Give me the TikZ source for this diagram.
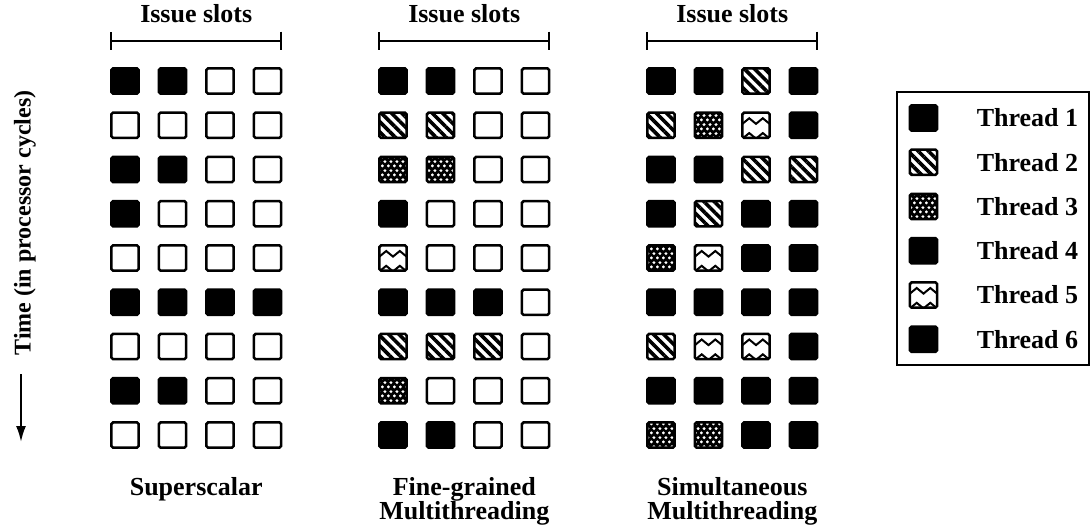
\documentclass[tikz,border=0pt]{standalone}
\usepackage{fontspec}
\setmainfont{Liberation Serif}
\usetikzlibrary{arrows.meta,positioning,calc,patterns,patterns.meta}

% staggered white dots for thread 3
\pgfdeclarepatternformonly{hexdots}{\pgfpointorigin}{\pgfpoint{2.8pt}{4.6pt}}{\pgfpoint{2.8pt}{4.6pt}}{%
  \pgfpathcircle{\pgfpoint{0.7pt}{1.15pt}}{0.85pt}%
  \pgfpathcircle{\pgfpoint{2.1pt}{3.45pt}}{0.85pt}%
  \pgfusepath{fill}%
}

\tikzset{
  slot/.style={draw, line width=1.3pt, minimum width=13.6pt, minimum height=12.6pt, inner sep=0pt, rounded corners=0.8pt},
  slot0/.style={slot, fill=white},
  slot1/.style={slot, fill=black},
  slot2/.style={slot, preaction={fill=white}, pattern={Lines[angle=-45,distance=3.6pt,line width=1.8pt]}, pattern color=black},
  slot3/.style={slot, preaction={fill=black}, pattern=hexdots, pattern color=white},
  slot4/.style={slot1},
  slot5/.style={slot, fill=white, path picture={
      \draw[line width=1pt, sharp corners] ([yshift=-5.6pt]path picture bounding box.north west)
        -- ++(3.4pt,2.8pt) -- ++(3.4pt,-2.8pt) -- ++(3.4pt,2.8pt) -- ++(3.4pt,-2.8pt);
      \draw[line width=1pt, sharp corners] ([yshift=-13pt]path picture bounding box.north west)
        -- ++(3.4pt,2.8pt) -- ++(3.4pt,-2.8pt) -- ++(3.4pt,2.8pt) -- ++(3.4pt,-2.8pt);
  }},
  slot6/.style={slot1},
  span/.style={line width=1pt, arrows={Bar[width=9pt]-Bar[width=9pt]}},
  lbl/.style={align=center, inner sep=0pt}
}

\begin{document}
\begin{tikzpicture}[font=\fontsize{13pt}{12pt}\selectfont\bfseries, >=Latex]
\begin{scope}[x=0.5pt, y=-0.5pt]
    \useasboundingbox (0,0) rectangle (1092,526);
    % Superscalar.
    \foreach \row [count=\r] in {{1,1,0,0},{0,0,0,0},{1,1,0,0},{1,0,0,0},{0,0,0,0},{1,1,1,1},{0,0,0,0},{1,1,0,0},{0,0,0,0}}{
        \foreach \t [count=\c] in \row {
            \node[slot\t] (a-\r-\c) at ({125+47.5*(\c-1)},{81+44.25*(\r-1)}) {};
        }
    }
    % Fine-grained multithreading.
    \foreach \row [count=\r] in {{1,1,0,0},{2,2,0,0},{3,3,0,0},{4,0,0,0},{5,0,0,0},{6,6,6,0},{2,2,2,0},{3,0,0,0},{4,4,0,0}}{
        \foreach \t [count=\c] in \row {
            \node[slot\t] (b-\r-\c) at ({393+47.5*(\c-1)},{81+44.25*(\r-1)}) {};
        }
    }
    % Simultaneous multithreading.
    \foreach \row [count=\r] in {{1,1,2,4},{2,3,5,6},{1,1,2,2},{4,2,4,4},{3,5,6,6},{1,1,1,1},{2,5,5,6},{1,1,1,1},{3,3,1,1}}{
        \foreach \t [count=\c] in \row {
            \node[slot\t] (c-\r-\c) at ({661+47.5*(\c-1)},{81+44.25*(\r-1)}) {};
        }
    }
    % Issue slot brackets and captions.
    \foreach \g/\lab in {a/Superscalar,b/Fine-grained\\Multithreading,c/Simultaneous\\Multithreading}{
        \draw[span] ([yshift=13.2pt]\g-1-1.north west) -- node[lbl, above=8.5pt] (issue-\g) {Issue slots} ([yshift=13.2pt]\g-1-4.north east);
        \node[lbl, anchor=north] (name-\g) at ($(\g-9-2.south)!0.5!(\g-9-3.south)+(0,-14.2pt)$) {\lab};
    }
    % Time axis.
    \node[lbl, rotate=90, font=\fontsize{12pt}{12pt}\selectfont\bfseries] (time) at (25,223) {Time (in processor cycles)};
    \coordinate (arr-a) at (21,374);
    \coordinate (arr-b) at (21,442);
    \draw[line width=1pt, -{Latex[length=8pt,width=5pt]}] (arr-a) -- (arr-b);
    % Legend.
    \draw[line width=1pt] (897,92) rectangle (1089,365);
    \foreach \i in {1,...,6}{
        \node[slot\i] (key\i) at (923.5,{118+44.25*(\i-1)}) {};
        \node[lbl, right=19pt of key\i] (thr\i) {Thread \i};
    }
\end{scope}
\end{tikzpicture}
\end{document}
